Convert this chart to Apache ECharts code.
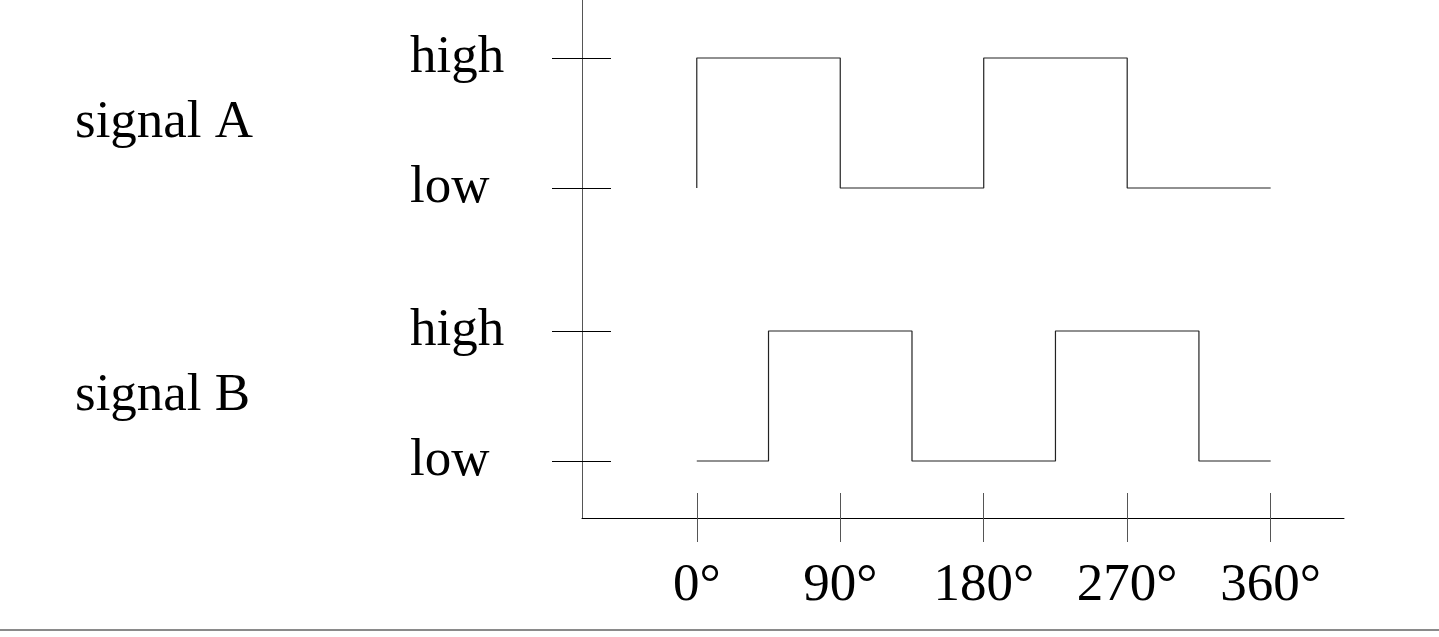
<!DOCTYPE html>
<html>
<head>
<meta charset="utf-8">
<script src="https://cdn.jsdelivr.net/npm/echarts@6/dist/echarts.min.js"></script>
<style>
html,body{margin:0;padding:0;background:#fff;}
#c{width:1439px;height:637px;}
</style>
</head>
<body>
<div id="c"></div>
<script>
// ---- data ----
const angleTicks = [0, 90, 180, 270, 360];
const angleLabels = ['0°', '90°', '180°', '270°', '360°'];
const levelValues = [0, 1, 2.1, 3.1];            // B low, B high, A low, A high
const levelLabels = ['low', 'high', 'low', 'high'];
const signalNames = ['signal B', 'signal A'];
const signalNamePos = [0.5, 2.6];
// signal A (vertices of the square wave)
const signalAX = [0, 0, 90, 90, 180, 180, 270, 270, 360];
const signalAY = [2.1, 3.1, 3.1, 2.1, 2.1, 3.1, 3.1, 2.1, 2.1];
// signal B (vertices of the square wave)
const signalBX = [0, 45, 45, 135, 135, 225, 225, 315, 315, 360];
const signalBY = [0, 0, 1, 1, 0, 0, 1, 1, 0, 0];

const FONT = '"Liberation Serif", "DejaVu Serif", serif';
const FS = 53;

const chart = echarts.init(document.getElementById('c'), null, {renderer: 'canvas'});

function pairs(xs, ys) { return xs.map((x, i) => [x, ys[i]]); }

const lineStyleAxis = {color: '#000', width: 1};

chart.setOption({
  animation: false,
  backgroundColor: '#fff',
  grid: {left: 582, right: 95, top: 0, bottom: 119, containLabel: false},
  xAxis: [
    {
      type: 'value', min: -72, max: 406, position: 'bottom',
      axisLine: {show: true, onZero: false, lineStyle: lineStyleAxis},
      axisTick: {show: true, inside: false, length: 24, customValues: angleTicks, lineStyle: {color: '#555', width: 1}},
      axisLabel: {
        show: true, customValues: angleTicks, margin: 42,
        formatter: v => angleLabels[angleTicks.indexOf(v)],
        fontFamily: FONT, fontSize: FS, color: '#000'
      },
      splitLine: {show: false}
    },
    {
      type: 'value', min: -72, max: 406, position: 'bottom', offset: 0,
      axisLine: {show: false, onZero: false},
      axisTick: {show: true, inside: true, length: 25, customValues: angleTicks, lineStyle: {color: '#555', width: 1}},
      axisLabel: {show: false},
      splitLine: {show: false}
    }
  ],
  yAxis: [
    {
      type: 'value', min: -0.4385, max: 3.546, position: 'left',
      axisLine: {show: true, onZero: false, lineStyle: {color: '#555', width: 1}},
      axisTick: {show: true, inside: false, length: 30, customValues: levelValues, lineStyle: lineStyleAxis},
      axisLabel: {
        show: true, customValues: levelValues, margin: 172, align: 'left',
        formatter: v => levelLabels[levelValues.indexOf(v)],
        fontFamily: FONT, fontSize: FS, color: '#000'
      },
      splitLine: {show: false}
    },
    {
      type: 'value', min: -0.4385, max: 3.546, position: 'left', offset: 0,
      axisLine: {show: false, onZero: false},
      axisTick: {show: true, inside: true, length: 29, customValues: levelValues, lineStyle: lineStyleAxis},
      axisLabel: {show: false},
      splitLine: {show: false}
    },
    {
      type: 'value', min: -0.4385, max: 3.546, position: 'left', offset: 0,
      axisLine: {show: false, onZero: false},
      axisTick: {show: false},
      axisLabel: {
        show: true, customValues: signalNamePos, margin: 507, align: 'left',
        formatter: v => signalNames[signalNamePos.indexOf(v)],
        fontFamily: FONT, fontSize: FS, color: '#000'
      },
      splitLine: {show: false}
    }
  ],
  series: [
    {
      name: 'signal A', type: 'line', xAxisIndex: 0, yAxisIndex: 0,
      data: pairs(signalAX, signalAY), showSymbol: false, symbol: 'none',
      lineStyle: {color: '#222', width: 1.2}, silent: true
    },
    {
      name: 'signal B', type: 'line', xAxisIndex: 0, yAxisIndex: 0,
      data: pairs(signalBX, signalBY), showSymbol: false, symbol: 'none',
      lineStyle: {color: '#222', width: 1.2}, silent: true
    }
  ],
  graphic: [
    {type: 'rect', left: 0, top: 629, shape: {width: 1439, height: 2}, style: {fill: '#8a8a8a'}, silent: true}
  ]
});
</script>
</body>
</html>
